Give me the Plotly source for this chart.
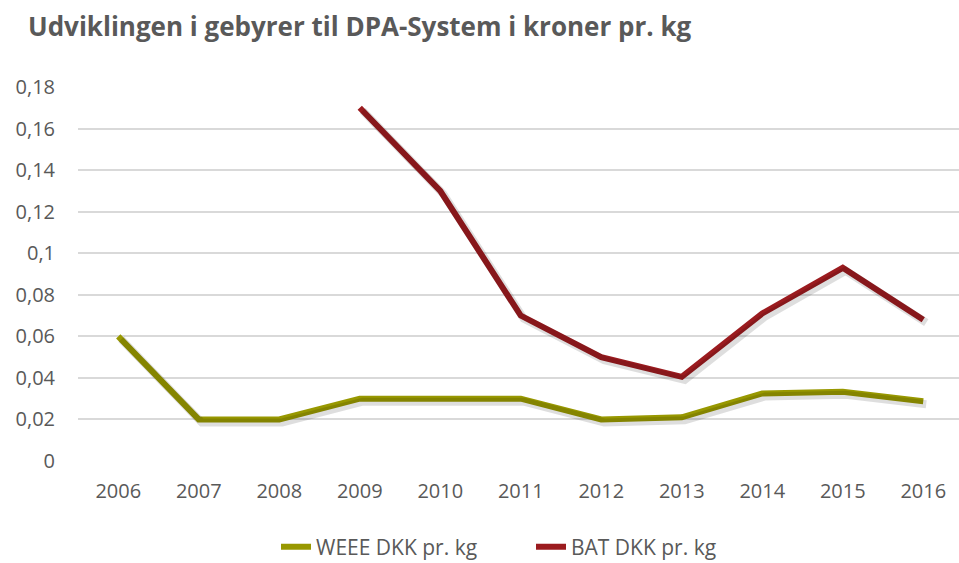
import plotly.graph_objects as go

years = ["2006", "2007", "2008", "2009", "2010", "2011", "2012", "2013", "2014", "2015", "2016"]
weee = [0.06, 0.02, 0.02, 0.03, 0.03, 0.03, 0.02, 0.021, 0.0325, 0.0333, 0.0288]
bat = [None, None, None, 0.17, 0.13, 0.07, 0.05, 0.0405, 0.071, 0.093, 0.068]

WEEE_COLOR = "#989800"
BAT_COLOR = "#9B1B1F"
TEXT = "#595959"
FONT = "Open Sans, Lato, sans-serif"

# plot geometry (px)
L, R, T, B = 78, 0, 87, 102
W, H = 959, 563
plot_w = W - L - R
plot_h = H - T - B
px_per_x = 80.5
x_range = [-0.5, -0.5 + plot_w / px_per_x]
y_range = [0, 0.18]
px_per_y = plot_h / (y_range[1] - y_range[0])
sh = 3  # shadow offset px

fig = go.Figure()
# soft shadows drawn on overlaid, slightly shifted axes
for vals in (weee, bat):
    fig.add_trace(go.Scatter(x=years, y=vals, mode="lines", showlegend=False, hoverinfo="skip",
                             line=dict(color="rgba(0,0,0,0.13)", width=8),
                             xaxis="x2", yaxis="y2"))
fig.add_trace(go.Scatter(x=years, y=weee, mode="lines", name="WEEE DKK pr. kg",
                         line=dict(color=WEEE_COLOR, width=6)))
fig.add_trace(go.Scatter(x=years, y=bat, mode="lines", name="BAT DKK pr. kg",
                         line=dict(color=BAT_COLOR, width=6)))

fig.update_layout(
    width=W, height=H,
    margin=dict(l=L, r=R, t=T, b=B, autoexpand=False),
    paper_bgcolor="white", plot_bgcolor="white",
    separators=", ",
    title=dict(text="<b>Udviklingen i gebyrer til DPA-System i kroner pr. kg</b>",
               x=28 / W, xanchor="left", y=1 - 27 / H, yanchor="middle",
               font=dict(family=FONT, size=26, color=TEXT)),
    font=dict(family=FONT, size=20, color=TEXT),
    showlegend=True,
    legend=dict(orientation="h", x=(531 - L) / plot_w, xanchor="center",
                y=(T + plot_h - 547) / plot_h, yanchor="middle",
                entrywidth=210, entrywidthmode="pixels",
                font=dict(family=FONT, size=21, color=TEXT), traceorder="normal"),
    xaxis=dict(type="category", range=x_range, showgrid=False, showline=False,
               zeroline=False, ticks="", ticklabelstandoff=16, automargin=False,
               tickfont=dict(family=FONT, size=20, color=TEXT)),
    yaxis=dict(range=y_range, dtick=0.02, showgrid=True, gridcolor="#D9D9D9",
               gridwidth=1.5, zeroline=False, showline=False, ticks="", automargin=False,
               ticklabelstandoff=22, tickfont=dict(family=FONT, size=20, color=TEXT)),
    xaxis2=dict(type="category", overlaying="x", visible=False,
                range=[x_range[0] - sh / px_per_x, x_range[1] - sh / px_per_x]),
    yaxis2=dict(overlaying="y", visible=False,
                range=[y_range[0] + sh / px_per_y, y_range[1] + sh / px_per_y]),
)
fig.write_html("out.html", config={"displayModeBar": False},
               post_script="document.body.style.margin='0';")
